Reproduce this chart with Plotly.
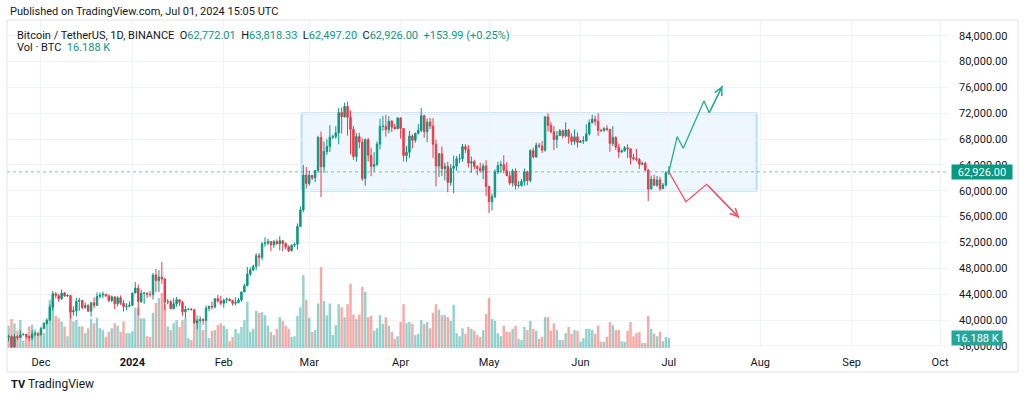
import pandas as pd
import plotly.graph_objects as go

# ---------------- data (BTCUSDT daily) ----------------
dates = pd.date_range("2023-11-20", "2024-07-01", freq="D")

closes = [
    # Nov 20-30
    37450, 35810, 37430, 37290, 37720, 37800, 37450, 37240, 37830, 37860, 37710,
    # Dec
    38690, 39470, 39980, 41990, 44080, 43770, 43290, 44170, 43720, 43790, 41240, 41450, 42890, 43020, 41940, 42260,
    41370, 42660, 42270, 43660, 43860, 43990, 43740, 43010, 43580, 42510, 43440, 42590, 42070, 42140, 42280,
    # Jan
    44180, 44950, 42850, 44150, 44160, 43970, 43930, 46970, 46120, 46630, 46340, 42780, 42840, 41730, 42510, 43140,
    42740, 41260, 41620, 41660, 41580, 39570, 39890, 40080, 39940, 41820, 42120, 42030, 43300, 42950, 42580,
    # Feb
    43080, 43200, 43010, 42580, 42710, 43090, 44340, 45290, 47130, 47750, 48290, 49960, 49700, 51800, 51910, 52140,
    51640, 52140, 51780, 52270, 51850, 51300, 50730, 51570, 51730, 54480, 57040, 62430, 61130,
    # Mar
    62390, 61990, 63130, 68250, 63720, 66070, 66850, 68300, 68390, 68960, 72100, 71450, 73070, 71390, 69500, 65300,
    68390, 67550, 61910, 67910, 65490, 63780, 64060, 67230, 69960, 69990, 69460, 70780, 69850, 69580, 71280,
    # Apr
    69650, 65460, 65960, 68490, 67820, 68900, 69360, 71620, 69150, 70630, 70010, 67190, 63820, 65740, 63420, 63790,
    61280, 63470, 63820, 64940, 64960, 66840, 66410, 64280, 64500, 63770, 63460, 63120, 63840, 60670,
    # May
    58320, 59100, 62890, 63890, 64030, 63160, 62330, 61190, 63070, 60790, 60830, 61450, 62930, 61580, 66210, 65230,
    67040, 66930, 66270, 71440, 70130, 69120, 67930, 68520, 69290, 68500, 69390, 68360, 67630, 68350, 67490,
    # Jun
    67700, 67750, 68800, 70550, 71080, 70760, 69340, 69300, 69650, 69510, 67320, 68240, 66750, 66010, 66190, 66640,
    66490, 65140, 64960, 64830, 64100, 64250, 63180, 60280, 61800, 60860, 61670, 60320, 60890, 62772.01,
    # Jul 1
    62926.00,
]

opens = [
    # Nov 20-30
    37360, 37450, 35810, 37430, 37290, 37720, 37800, 37450, 37240, 37830, 37860,
    # Dec
    37710, 38690, 39470, 39980, 41990, 44080, 43770, 43290, 44170, 43720, 43790, 41240, 41450, 42890, 43020, 41940,
    42260, 41370, 42660, 42270, 43660, 43860, 43990, 43740, 43010, 43580, 42510, 43440, 42590, 42070, 42140,
    # Jan
    42280, 44180, 44950, 42850, 44150, 44160, 43970, 43930, 46970, 46120, 46630, 46340, 42780, 42840, 41730, 42510,
    43140, 42740, 41260, 41620, 41660, 41580, 39570, 39890, 40080, 39940, 41820, 42120, 42030, 43300, 42950,
    # Feb
    42580, 43080, 43200, 43010, 42580, 42710, 43090, 44340, 45290, 47130, 47750, 48290, 49960, 49700, 51800, 51910,
    52140, 51640, 52140, 51780, 52270, 51850, 51300, 50730, 51570, 51730, 54480, 57040, 62430,
    # Mar
    61130, 62390, 61990, 63130, 68250, 63720, 66070, 66850, 68300, 68390, 68960, 72100, 71450, 73070, 71390, 69500,
    65300, 68390, 67550, 61910, 67910, 65490, 63780, 64060, 67230, 69960, 69990, 69460, 70780, 69850, 69580,
    # Apr
    71280, 69650, 65460, 65960, 68490, 67820, 68900, 69360, 71620, 69150, 70630, 70010, 67190, 63820, 65740, 63420,
    63790, 61280, 63470, 63820, 64940, 64960, 66840, 66410, 64280, 64500, 63770, 63460, 63120, 63840,
    # May
    60670, 58320, 59100, 62890, 63890, 64030, 63160, 62330, 61190, 63070, 60790, 60830, 61450, 62930, 61580, 66210,
    65230, 67040, 66930, 66270, 71440, 70130, 69120, 67930, 68520, 69290, 68500, 69390, 68360, 67630, 68350,
    # Jun
    67490, 67700, 67750, 68800, 70550, 71080, 70760, 69340, 69300, 69650, 69510, 67320, 68240, 66750, 66010, 66190,
    66640, 66490, 65140, 64960, 64830, 64100, 64250, 63180, 60280, 61800, 60860, 61670, 60320, 60890,
    # Jul 1
    62772.01,
]

highs = [
    # Nov 20-30
    37750, 37650, 37850, 37650, 38420, 37900, 37840, 37560, 38400, 38150, 38000,
    # Dec
    38950, 39700, 40250, 42420, 44490, 44300, 44050, 44700, 44360, 44040, 43850, 42100, 43430, 43420, 43090, 42720,
    42440, 42760, 43500, 44280, 44240, 44400, 44020, 43940, 43800, 43600, 43680, 43800, 43120, 42600, 42900,
    # Jan
    44190, 45880, 45500, 44730, 44340, 44230, 44500, 47250, 47900, 47700, 48970, 46500, 43250, 43070, 43400, 43580,
    43200, 42930, 42200, 41870, 41870, 41690, 40130, 40560, 40300, 42230, 42200, 42850, 43300, 43880, 43750,
    # Feb
    43290, 43480, 43380, 43120, 43500, 43400, 44370, 45610, 48200, 48170, 48590, 50330, 50370, 52040, 52820, 52580,
    52180, 52370, 52490, 52980, 52370, 52000, 51550, 51680, 51960, 54940, 57590, 64000, 63680,
    # Mar
    63110, 62430, 63230, 68500, 69170, 67640, 67990, 70140, 68670, 69990, 72800, 72890, 73650, 73780, 72420, 70040,
    68920, 68960, 68110, 68100, 68200, 66650, 65970, 67620, 71150, 71560, 71770, 71550, 70900, 70350, 71370,
    # Apr
    71370, 69670, 66910, 69290, 68720, 69000, 70330, 72800, 71760, 71170, 71260, 71230, 67930, 65840, 66870, 64360,
    64470, 64120, 65450, 65390, 65700, 67230, 67200, 67080, 65300, 64790, 63920, 64370, 64230, 64730,
    # May
    60780, 59600, 63320, 64500, 64640, 65500, 64440, 63020, 63400, 63470, 61490, 61820, 63450, 63100, 66440, 66690,
    67450, 67400, 67700, 71520, 71980, 70620, 70040, 69230, 69560, 69500, 70600, 69580, 68910, 69500, 69020,
    # Jun
    67860, 68450, 70280, 71060, 71760, 71630, 71990, 69580, 69850, 70150, 69560, 69990, 68450, 67300, 66400, 66930,
    67190, 66550, 65730, 66480, 65070, 64520, 64490, 63370, 62370, 62480, 62290, 62180, 61200, 63060,
    # Jul 1
    63818.33,
]

lows = [
    # Nov 20-30
    36700, 35630, 35700, 36870, 37250, 37600, 37160, 36750, 36880, 37520, 37500,
    # Dec
    37620, 38650, 39280, 39950, 41420, 43340, 42820, 43080, 43580, 43560, 40220, 40680, 40560, 41400, 41660, 41720,
    41250, 40530, 41800, 42210, 43330, 43400, 43580, 42800, 42760, 41680, 42100, 42320, 41300, 41520, 41970,
    # Jan
    42180, 44150, 40750, 42630, 42500, 43420, 43570, 43180, 44300, 44350, 45600, 41500, 42440, 41720, 41720, 42050,
    42200, 40680, 40280, 41500, 41500, 39430, 38560, 39480, 39260, 39820, 41400, 41620, 41800, 42680, 42260,
    # Feb
    41880, 42580, 42880, 42220, 42260, 42570, 42790, 44330, 45250, 46800, 47560, 47710, 48300, 49260, 51330, 51570,
    50630, 51160, 51680, 50760, 50630, 50930, 50520, 50590, 51280, 50900, 54450, 56690, 60360,
    # Mar
    60780, 61650, 61320, 62770, 59000, 62790, 65540, 66000, 68020, 68040, 67190, 68850, 71330, 68550, 65630, 64780,
    64500, 66570, 61540, 60780, 64530, 62260, 63000, 63800, 66390, 69280, 68380, 68900, 69080, 69500, 69560,
    # Apr
    68060, 64550, 64490, 65060, 66560, 67450, 68720, 69040, 68210, 67520, 69560, 65090, 60660, 62130, 62300, 61620,
    59770, 60780, 59600, 63090, 64280, 64500, 65860, 63600, 62790, 63320, 62400, 62800, 61770, 59190,
    # May
    56550, 56940, 58850, 62600, 62840, 62700, 62300, 60880, 60650, 60190, 60500, 60630, 60750, 60850, 61300, 64990,
    65110, 66600, 65850, 66060, 69160, 68900, 66310, 66620, 68500, 68100, 68230, 67280, 67070, 67120, 66670,
    # Jun
    67390, 67250, 67610, 68560, 70380, 70120, 68500, 69130, 69130, 69230, 66050, 66900, 66300, 65080, 65870, 66050,
    65060, 64060, 64690, 64520, 63380, 63940, 63180, 58400, 60240, 60770, 60620, 60000, 60320, 60680,
    # Jul 1
    62497.20,
]

volumes_k = [  # thousand BTC
    # Nov 20-30
    36, 47, 40, 28, 45, 12, 20, 35, 38, 30, 26,
    # Dec
    29, 24, 45, 78, 86, 52, 48, 43, 35, 19, 68, 43, 46, 35, 35, 24, 32, 47, 40, 49, 32, 29, 18, 26, 32, 40, 36, 26,
    43, 24, 24,
    # Jan
    27, 65, 65, 48, 48, 19, 18, 57, 73, 81, 89, 72, 35, 29, 40, 45, 34, 45, 48, 16, 13, 48, 53, 40, 29, 45, 16, 28,
    29, 37, 40,
    # Feb
    36, 31, 11, 18, 31, 24, 34, 45, 75, 26, 31, 60, 57, 58, 53, 36, 26, 21, 31, 50, 44, 36, 31, 18, 19, 52, 66, 118, 78,
    # Mar
    49, 26, 29, 72, 131, 76, 53, 72, 21, 37, 71, 66, 50, 71, 104, 54, 47, 54, 99, 91, 50, 52, 28, 32, 53, 39, 50, 36,
    26, 15, 19,
    # Apr
    42, 71, 40, 42, 39, 21, 23, 45, 39, 42, 32, 57, 71, 62, 53, 53, 50, 44, 70, 24, 19, 32, 23, 34, 31, 28, 21, 18,
    29, 55,
    # May
    81, 47, 44, 24, 19, 36, 26, 26, 31, 36, 15, 13, 34, 29, 44, 31, 28, 15, 18, 50, 50, 28, 40, 29, 13, 13, 24, 34,
    23, 29, 28,
    # Jun
    10, 16, 31, 31, 29, 23, 36, 10, 10, 18, 42, 37, 29, 29, 11, 10, 28, 42, 19, 24, 26, 8, 8, 52, 31, 23, 19, 26, 11, 18,
    # Jul 1
    16.188,
]

month_ticks = ["2023-12-01", "2024-01-01", "2024-02-01", "2024-03-01", "2024-04-01", "2024-05-01",
               "2024-06-01", "2024-07-01", "2024-08-01", "2024-09-01", "2024-10-01"]
month_labels = ["Dec", "<b>2024</b>", "Feb", "Mar", "Apr", "May", "Jun", "Jul", "Aug", "Sep", "Oct"]
price_ticks = [36000, 40000, 44000, 48000, 52000, 56000, 60000, 64000, 68000, 72000, 76000, 80000, 84000]

# range box and projected paths (drawings on the chart)
range_box_dates = ["2024-02-27 09:00", "2024-07-30 19:00"]
range_box_prices = [60000, 72000]
bull_dates = ["2024-07-01", "2024-07-03 20:00", "2024-07-05 21:00", "2024-07-12 22:00", "2024-07-14 17:00", "2024-07-19 05:00"]
bull_prices = [62926, 68365, 66570, 73890, 72080, 76260]
bear_dates = ["2024-07-01", "2024-07-06 19:00", "2024-07-13 19:00", "2024-07-24 21:00"]
bear_prices = [62926, 58300, 61000, 55830]

assert len(dates) == len(opens) == len(highs) == len(lows) == len(closes) == len(volumes_k)

# ---------------- styling ----------------
W, H = 1024, 399
ML, MR, MT, MB = 7, 76, 20, 51
PW, PH = W - ML - MR, H - MT - MB


def px(x):
    return (x - ML) / PW


def py(y):
    return (H - MB - y) / PH


UP = "#089981"
DOWN = "#f23645"
TEXT = "#131722"
GRID = "#f0f3fa"
FONT = "Roboto"

vol_colors = ["rgba(38,166,154,0.5)" if c >= o else "rgba(239,83,80,0.5)" for o, c in zip(opens, closes)]

fig = go.Figure()
fig.add_trace(go.Bar(x=dates, y=volumes_k, marker=dict(color=vol_colors, line_width=0),
                     xaxis="x", yaxis="y", hoverinfo="skip"))
fig.add_trace(go.Candlestick(
    x=dates, open=opens, high=highs, low=lows, close=closes, xaxis="x", yaxis="y2",
    increasing=dict(line=dict(color=UP, width=1), fillcolor=UP),
    decreasing=dict(line=dict(color=DOWN, width=1), fillcolor=DOWN),
    whiskerwidth=0,
))
fig.add_trace(go.Scatter(x=bull_dates, y=bull_prices, mode="lines", yaxis="y2",
                         line=dict(color="#22ab94", width=1.3), hoverinfo="skip"))
fig.add_trace(go.Scatter(x=bear_dates, y=bear_prices, mode="lines", yaxis="y2",
                         line=dict(color="#f7525f", width=1.3), hoverinfo="skip"))

shapes = [
    dict(type="rect", xref="x", yref="y2", x0=range_box_dates[0], x1=range_box_dates[1],
         y0=range_box_prices[0], y1=range_box_prices[1], layer="below",
         fillcolor="rgba(33,150,243,0.08)", line=dict(color="rgba(33,150,243,0.3)", width=2)),
    dict(type="line", xref="paper", yref="y2", x0=0, x1=1, y0=closes[-1], y1=closes[-1],
         line=dict(color="rgba(8,153,129,0.55)", width=1, dash="dot"), layer="above"),
    dict(type="rect", xref="paper", yref="paper", x0=px(7), x1=px(1018), y0=py(372), y1=py(20),
         line=dict(color="#e0e3eb", width=1), fillcolor="rgba(0,0,0,0)", layer="above"),
]

chg = closes[-1] - opens[-1]
pct = chg / opens[-1] * 100
g = lambda s: f"<span style='color:{UP}'>{s}</span>"
legend_text = (f"Bitcoin / TetherUS, 1D, BINANCE&nbsp;&nbsp;O{g(f'{opens[-1]:,.2f}')}&nbsp;&nbsp;"
               f"H{g(f'{highs[-1]:,.2f}')}&nbsp;&nbsp;L{g(f'{lows[-1]:,.2f}')}&nbsp;&nbsp;"
               f"C{g(f'{closes[-1]:,.2f}')}&nbsp;&nbsp;{g(f'+{chg:,.2f} (+{pct:.2f}%)')}")

annotations = [
    dict(xref="paper", yref="paper", x=px(8), y=py(12), xanchor="left", yanchor="middle", showarrow=False,
         text="Published on TradingView.com, Jul 01, 2024 15:05 UTC", font=dict(size=11, color=TEXT)),
    dict(xref="paper", yref="paper", x=px(15), y=py(35), xanchor="left", yanchor="middle", showarrow=False,
         text=legend_text, font=dict(size=11, color=TEXT)),
    dict(xref="paper", yref="paper", x=px(15), y=py(48), xanchor="left", yanchor="middle", showarrow=False,
         text=f"Vol · BTC&nbsp;&nbsp;{g(f'{volumes_k[-1]:.3f} K')}", font=dict(size=11, color=TEXT)),
    dict(xref="paper", yref="paper", x=px(9), y=py(384), xanchor="left", yanchor="middle", showarrow=False,
         text="<b>TV</b>", font=dict(size=11, color=TEXT)),
    dict(xref="paper", yref="paper", x=px(26), y=py(384), xanchor="left", yanchor="middle", showarrow=False,
         text="TradingView", font=dict(size=12, color=TEXT)),
    dict(xref="paper", yref="y2", x=px(951), y=closes[-1], xanchor="left", yanchor="middle", showarrow=False,
         text=f"{closes[-1]:,.2f}", bgcolor=UP, width=58, height=12, borderpad=1,
         font=dict(size=11, color="white")),
    dict(xref="paper", yref="y", x=px(951), y=volumes_k[-1], xanchor="left", yanchor="middle", showarrow=False,
         text=f"{volumes_k[-1]:.3f} K", bgcolor="#26a69a", width=48, height=12, borderpad=1,
         font=dict(size=11, color="white")),
    dict(xref="x", yref="y2", axref="x", ayref="y2", x=bull_dates[-1], y=bull_prices[-1],
         ax=bull_dates[-2], ay=bull_prices[-2], text="", showarrow=True, arrowhead=5, arrowsize=1.2,
         arrowwidth=1.3, arrowcolor="#22ab94", standoff=0),
    dict(xref="x", yref="y2", axref="x", ayref="y2", x=bear_dates[-1], y=bear_prices[-1],
         ax=bear_dates[-2], ay=bear_prices[-2], text="", showarrow=True, arrowhead=5, arrowsize=1.2,
         arrowwidth=1.3, arrowcolor="#f7525f", standoff=0),
]

fig.update_layout(
    width=W, height=H, margin=dict(l=ML, r=MR, t=MT, b=MB, pad=0, autoexpand=False),
    paper_bgcolor="white", plot_bgcolor="white", showlegend=False, hovermode=False,
    font=dict(family=FONT, size=11, color=TEXT),
    bargap=0.18,
    xaxis=dict(type="date", range=["2023-11-19 11:17", "2024-10-03 16:48"],
               tickmode="array", tickvals=month_ticks, ticktext=month_labels, automargin=False,
               showgrid=True, gridcolor=GRID, gridwidth=1, zeroline=False, showline=False,
               ticks="", ticklabelstandoff=6, tickfont=dict(size=11, color=TEXT),
               rangeslider=dict(visible=False)),
    yaxis=dict(range=[0, 531], visible=False, showgrid=False, zeroline=False, automargin=False),
    yaxis2=dict(overlaying="y", side="right", range=[35666, 86430], automargin=False,
                tickmode="array", tickvals=price_ticks, tickformat=",.2f",
                showgrid=True, gridcolor=GRID, gridwidth=1, zeroline=False, showline=False,
                ticks="", ticklabelstandoff=10, tickfont=dict(size=11, color=TEXT)),
    shapes=shapes, annotations=annotations,
)

fig.write_html("out.html", config={"displayModeBar": False, "staticPlot": True},
               post_script="document.body.style.margin='0px';")
